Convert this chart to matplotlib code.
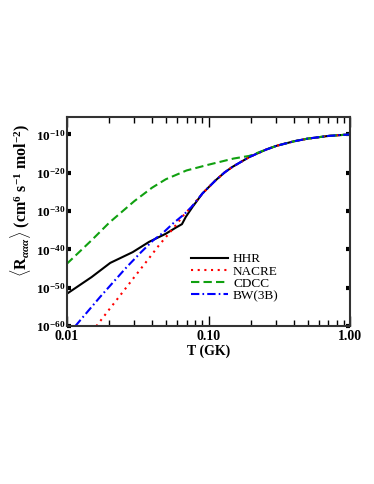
import numpy as np
import matplotlib
matplotlib.use('Agg')
import matplotlib.pyplot as plt
from matplotlib.ticker import NullLocator, FixedLocator

plt.rcParams['font.family'] = ['Liberation Serif', 'DejaVu Serif']
plt.rcParams['font.weight'] = 'bold'
plt.rcParams['mathtext.fontset'] = 'custom'
plt.rcParams['mathtext.rm'] = 'Liberation Serif:bold'
plt.rcParams['mathtext.bf'] = 'Liberation Serif:bold'
plt.rcParams['mathtext.it'] = 'Liberation Serif:italic'

# temperatures (GK) and log10 of the rate
T_hhr = [0.01, 0.015, 0.0203, 0.0292, 0.0382, 0.05, 0.0589, 0.065, 0.0692, 0.0772,
         0.0906, 0.112, 0.13, 0.147, 0.194, 0.253, 0.3, 0.4, 0.5, 0.7, 1.0]
e_hhr = [-51.6, -47.2, -43.5, -40.7, -38.0, -35.9, -34.3, -33.4, -31.5, -28.9,
         -25.4, -22.0, -19.9, -18.5, -15.9, -14.0, -13.0, -11.8, -11.1, -10.4, -10.0]

T_nacre = [0.0162, 0.02, 0.025, 0.03, 0.037, 0.045, 0.055, 0.062, 0.068, 0.0772,
           0.0906, 0.112, 0.13, 0.147, 0.194, 0.253, 0.3, 0.4, 0.5, 0.7, 1.0]
e_nacre = [-60.0, -55.6, -51.0, -47.2, -42.9, -38.8, -35.0, -32.6, -30.7, -28.6,
           -25.4, -22.0, -19.9, -18.5, -15.9, -14.0, -13.0, -11.8, -11.1, -10.4, -10.0]

T_cdcc = [0.01, 0.015, 0.02, 0.03, 0.04, 0.05, 0.07, 0.1, 0.15, 0.194,
          0.253, 0.3, 0.4, 0.5, 0.7, 1.0]
e_cdcc = [-43.8, -37.6, -33.0, -27.4, -23.9, -21.7, -19.4, -17.9, -16.3, -15.6,
          -14.0, -13.0, -11.8, -11.1, -10.4, -10.0]

T_bw = [0.0115, 0.0172, 0.0265, 0.0337, 0.0408, 0.048, 0.0563, 0.068, 0.0772,
        0.0906, 0.112, 0.13, 0.147, 0.194, 0.253, 0.3, 0.4, 0.5, 0.7, 1.0]
e_bw = [-60.0, -52.4, -44.6, -40.6, -37.6, -35.6, -33.2, -30.7, -28.6,
        -25.4, -22.0, -19.9, -18.5, -15.9, -14.0, -13.0, -11.8, -11.1, -10.4, -10.0]

ytick_exp = [-60, -50, -40, -30, -20, -10]
xtick_vals = [0.01, 0.1, 1.0]
xtick_labels = ['0.01', '0.10', '1.00']

fig = plt.figure(figsize=(3.74, 4.84), dpi=100)
ax = fig.add_axes([0.178, 0.326, 0.759, 0.432])

lw = 1.5
ax.plot(T_hhr, 10.0 ** np.array(e_hhr), color='black', lw=lw, label='HHR')
ax.plot(T_nacre, 10.0 ** np.array(e_nacre), color='red', lw=lw,
        linestyle=(0, (1, 2.2)), label='NACRE')
ax.plot(T_cdcc, 10.0 ** np.array(e_cdcc), color='#10a010', lw=lw,
        linestyle=(0, (4, 2)), label='CDCC')
ax.plot(T_bw, 10.0 ** np.array(e_bw), color='blue', lw=lw,
        linestyle=(0, (4, 1.5, 0.8, 1.5)), label='BW(3B)')

ax.set_xscale('log')
ax.set_yscale('log')
ax.set_xlim(0.01, 1.0)
ax.set_ylim(1e-60, 10 ** -5.5)

ax.set_xticks(xtick_vals)
ax.set_xticklabels(xtick_labels, fontsize=10, fontweight='bold')
ax.xaxis.set_minor_locator(FixedLocator([m * d for d in (0.01, 0.1) for m in range(2, 10)]))
ax.xaxis.set_minor_formatter(plt.NullFormatter())
ax.set_yticks([10.0 ** e for e in ytick_exp])
ax.set_yticklabels([r'$\mathbf{10^{%d}}$' % e for e in ytick_exp], fontsize=9.5)
ax.yaxis.set_minor_locator(NullLocator())

ax.tick_params(axis='x', which='major', direction='in', length=7, width=1,
               top=True, pad=3)
ax.tick_params(axis='x', which='minor', direction='in', length=4, width=1, top=True)
ax.tick_params(axis='y', which='major', direction='in', length=3, width=3,
               right=True, pad=1)
for s in ax.spines.values():
    s.set_linewidth(1.5)
    s.set_color('#333333')

ax.set_xlabel('T (GK)', fontsize=10, fontweight='bold', labelpad=1)
ax.set_ylabel(r'$\langle$R$_{\mathit{\alpha\alpha\alpha}}\rangle$ (cm$^{6}$ s$^{-1}$ mol$^{-2}$)',
              fontsize=11.5, fontweight='bold')
ax.yaxis.set_label_coords(-0.12, 0.60)

leg = ax.legend(loc='upper left', bbox_to_anchor=(0.44, 0.35), frameon=False,
                fontsize=9.5, handlelength=2.75, handletextpad=0.4,
                labelspacing=0.0, borderpad=0, borderaxespad=0)
for t in leg.get_texts():
    t.set_fontweight('normal')

fig.savefig('out.png', dpi=100)
